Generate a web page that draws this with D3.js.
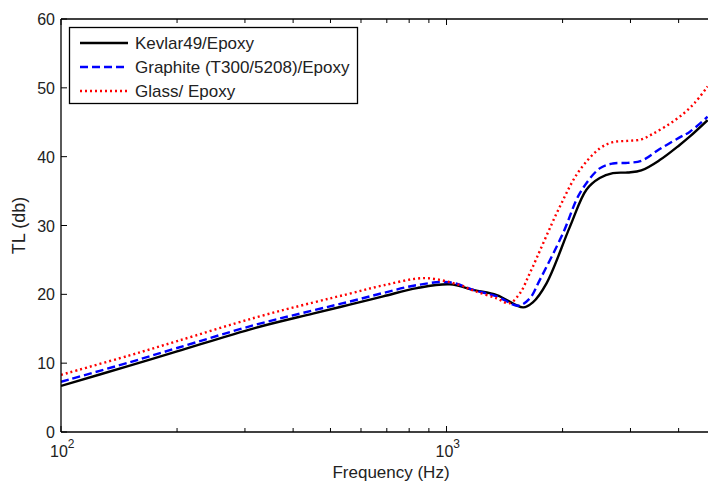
<!DOCTYPE html>
<html>
<head>
<meta charset="utf-8">
<script src="https://cdn.jsdelivr.net/npm/d3@7"></script>
<style>
  body { margin: 0; background: #fff; }
  svg { display: block; font-family: "Liberation Sans", Arial, sans-serif; }
</style>
</head>
<body>
<script>
// частоты (Гц) и значения TL (дБ) для каждого материала
const kevlarFreq = [100, 150, 200, 318, 450, 561, 685, 838, 1020, 1180, 1350, 1580, 1672, 1817, 2089, 2306, 2497, 2700, 2950, 3200, 3572, 4025, 4272, 4755];
const kevlarTL   = [6.7, 9.6, 11.7, 15.1, 17.2, 18.5, 19.7, 20.9, 21.45, 20.6, 19.9, 18.1, 18.8, 21.6, 29.8, 35.2, 36.9, 37.6, 37.7, 38.0, 39.5, 41.7, 42.9, 45.3];

const graphiteFreq = [100, 150, 200, 318, 450, 561, 685, 838, 1020, 1180, 1350, 1535, 1644, 1746, 2006, 2218, 2497, 2700, 2950, 3200, 3572, 4025, 4272, 4755];
const graphiteTL   = [7.3, 10.1, 12.2, 15.55, 17.65, 18.95, 20.2, 21.35, 21.75, 20.6, 19.7, 18.35, 19.4, 22.1, 28.9, 34.7, 38.3, 39.0, 39.1, 39.4, 41.1, 42.8, 43.6, 45.8];

const glassFreq = [100, 150, 200, 318, 450, 561, 685, 880, 1074, 1180, 1350, 1456, 1550, 1644, 1966, 2200, 2497, 2700, 2950, 3200, 3400, 3700, 4025, 4400, 4755];
const glassTL   = [8.3, 11.1, 13.2, 16.6, 18.8, 20.1, 21.3, 22.35, 21.4, 20.5, 19.4, 18.7, 20.15, 23.05, 32.7, 37.8, 41.2, 42.1, 42.3, 42.5, 43.2, 44.4, 45.8, 47.8, 50.2];

const seriesNames = ["Kevlar49/Epoxy", "Graphite (T300/5208)/Epoxy", "Glass/ Epoxy"];
const yTicks = [0, 10, 20, 30, 40, 50, 60];
const xMajor = [100, 1000];
const xMinor = [200, 300, 400, 500, 600, 700, 800, 900, 2000, 3000, 4000];

const width = 708, height = 485;
const margin = {left: 61, top: 19, bottom: 53};
const plotRight = 716; // правый край оси уходит за кадр

const svg = d3.select("body").append("svg")
    .attr("width", width)
    .attr("height", height);

const x = d3.scaleLog().domain([100, 5000]).range([margin.left, plotRight]);
const y = d3.scaleLinear().domain([0, 60]).range([height - margin.bottom, margin.top]);

const series = [
  {name: seriesNames[0], freq: kevlarFreq, tl: kevlarTL, color: "#000", dash: null},
  {name: seriesNames[1], freq: graphiteFreq, tl: graphiteTL, color: "#0000ff", dash: "8,4"},
  {name: seriesNames[2], freq: glassFreq, tl: glassTL, color: "#ff0000", dash: "2,3"}
];

const line = d3.line()
    .x(d => x(d[0]))
    .y(d => y(d[1]))
    .curve(d3.curveCatmullRom.alpha(0.5));

svg.append("clipPath").attr("id", "clip")
  .append("rect")
    .attr("x", margin.left).attr("y", margin.top)
    .attr("width", plotRight - margin.left).attr("height", y(0) - margin.top);

svg.append("g").attr("clip-path", "url(#clip)")
  .selectAll("path")
  .data(series)
  .join("path")
    .attr("fill", "none")
    .attr("stroke", d => d.color)
    .attr("stroke-width", 2.4)
    .attr("stroke-dasharray", d => d.dash)
    .attr("stroke-linejoin", "round")
    .attr("d", d => line(d.freq.map((f, i) => [f, d.tl[i]])));

// рамка осей (низ, лево, верх)
const frame = svg.append("g").attr("stroke", "#000").attr("stroke-width", 1.3).attr("fill", "none");
frame.append("line").attr("x1", margin.left).attr("x2", plotRight).attr("y1", y(0)).attr("y2", y(0));
frame.append("line").attr("x1", margin.left).attr("x2", plotRight).attr("y1", y(60)).attr("y2", y(60));
frame.append("line").attr("x1", margin.left).attr("x2", margin.left).attr("y1", y(0)).attr("y2", y(60));

// засечки внутрь
const ticks = svg.append("g").attr("stroke", "#000").attr("stroke-width", 1);
ticks.selectAll(".yt").data(yTicks).join("line")
    .attr("x1", margin.left).attr("x2", margin.left + 6)
    .attr("y1", d => y(d)).attr("y2", d => y(d));
ticks.selectAll(".xb").data(xMajor.concat(xMinor)).join("line")
    .attr("x1", d => x(d)).attr("x2", d => x(d))
    .attr("y1", y(0)).attr("y2", d => y(0) - (xMajor.includes(d) ? 6 : 4));
ticks.selectAll(".xt").data(xMajor.concat(xMinor)).join("line")
    .attr("x1", d => x(d)).attr("x2", d => x(d))
    .attr("y1", y(60)).attr("y2", d => y(60) + (xMajor.includes(d) ? 6 : 4));

// подписи оси Y
svg.append("g").selectAll("text").data(yTicks).join("text")
    .attr("x", margin.left - 6)
    .attr("y", d => y(d) + 6)
    .attr("text-anchor", "end")
    .attr("font-size", 16)
    .attr("fill", "#222")
    .text(d => d);

// подписи оси X: 10^2, 10^3
const xl = svg.append("g").selectAll("text").data(xMajor).join("text")
    .attr("x", d => x(d) - 11)
    .attr("y", y(0) + 25)
    .attr("font-size", 16)
    .attr("fill", "#222");
xl.append("tspan").text("10");
xl.append("tspan").attr("dy", -9).attr("font-size", 12).text(d => Math.round(Math.log10(d)));

svg.append("text")
    .attr("x", 391)
    .attr("y", 478)
    .attr("text-anchor", "middle")
    .attr("font-size", 17)
    .attr("fill", "#222")
    .text("Frequency (Hz)");

svg.append("text")
    .attr("transform", `translate(25,${y(30)}) rotate(-90)`)
    .attr("text-anchor", "middle")
    .attr("font-size", 18)
    .attr("fill", "#222")
    .text("TL (db)");

// легенда
const legend = svg.append("g");
legend.append("rect")
    .attr("x", 69.5).attr("y", 27.5)
    .attr("width", 288).attr("height", 76)
    .attr("fill", "#fff").attr("stroke", "#000").attr("stroke-width", 1.3);
const rows = legend.selectAll("g").data(series).join("g")
    .attr("transform", (d, i) => `translate(0,${43 + i * 24})`);
rows.append("line")
    .attr("x1", 80).attr("x2", 128)
    .attr("stroke", d => d.color)
    .attr("stroke-width", 2.4)
    .attr("stroke-dasharray", d => d.dash);
rows.append("text")
    .attr("x", 135).attr("y", 6)
    .attr("font-size", 17)
    .attr("fill", "#222")
    .text(d => d.name);
</script>
</body>
</html>
